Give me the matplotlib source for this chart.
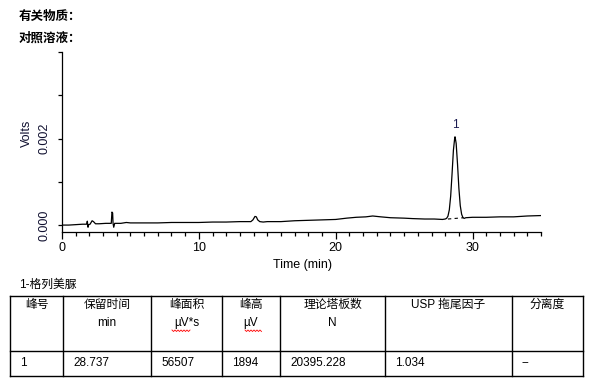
import numpy as np
import matplotlib
matplotlib.use("Agg")
import matplotlib.pyplot as plt
from matplotlib.lines import Line2D
from matplotlib.ticker import FixedLocator, MultipleLocator

# ---------------- data ----------------
time_min = [0, 0.5, 1.0, 1.5, 1.8, 1.85, 1.9, 1.95, 2.05, 2.2, 2.3, 2.45, 2.7, 3.2, 3.6,
            3.65, 3.7, 3.73, 3.78, 3.85, 4.3, 4.7, 5.0, 6, 7, 8, 9, 10, 11, 12, 13, 13.8,
            13.95, 14.1, 14.2, 14.3, 14.45, 14.7, 15, 16, 17, 18, 19, 20, 20.8, 21.5, 22.2,
            22.7, 23.3, 24, 25, 25.6, 26.5, 27.2, 27.8, 28.0, 28.1, 28.2, 28.3, 28.4, 28.5,
            28.6, 28.7, 28.72, 28.8, 28.9, 29.0, 29.1, 29.2, 29.3, 29.4, 29.5, 30, 31, 32,
            33, 34, 35]
volts = [0.00000, 0.00000, 0.00001, 0.00002, 0.00002, 0.00009, -0.00005, 0.00001, 0.00002,
         0.00010, 0.00008, 0.00003, 0.00003, 0.00004, 0.00004,
         0.00030, 0.00028, 0.00004, -0.00005, 0.00004, 0.00004, 0.00006, 0.00005, 0.00005,
         0.00005, 0.00006, 0.00006, 0.00006, 0.00007, 0.00007, 0.00008, 0.00008,
         0.00012, 0.00020, 0.00019, 0.00012, 0.00008, 0.00007, 0.00008, 0.00008, 0.00010,
         0.00011, 0.00012, 0.00013, 0.00016, 0.00018, 0.00019,
         0.00021, 0.00019, 0.00017, 0.00016, 0.00015, 0.00014, 0.00014, 0.00013, 0.00014,
         0.000155, 0.000205, 0.00035, 0.00067, 0.00118,
         0.00173, 0.00203, 0.00204, 0.00189, 0.00141, 0.00085, 0.00045, 0.00025, 0.00017,
         0.000155, 0.00017, 0.00018, 0.00018, 0.00019,
         0.00019, 0.00021, 0.00022]

peak_labels = ["1"]
peak_times = [28.72]
peak_apex = [0.00204]
peak_start = [28.2]
peak_end = [29.35]
peak_base_start = [0.00014]
peak_base_end = [0.00017]

title_lines = ["有关物质：", "对照溶液："]
caption = "1-格列美脲"
header_top = ["峰号", "保留时间", "峰面积", "峰高", "理论塔板数", "USP 拖尾因子", "分离度"]
header_unit = ["", "min", "µV*s", "µV", "N", "", ""]
row_values = ["1", "28.737", "56507", "1894", "20395.228", "1.034", "--"]

# ---------------- figure ----------------
W, H = 596, 387
fig = plt.figure(figsize=(W / 100, H / 100), dpi=100)
fam = ["Liberation Sans", "Noto Sans CJK SC", "DejaVu Sans"]
plt.rcParams["font.family"] = fam


def fx(x):
    return x / W


def fy(y):
    return 1 - y / H


ax = fig.add_axes([fx(62), fy(232), (541 - 62) / W, (232 - 52) / H])
ax.plot(time_min, volts, color="black", lw=0.9)
for s, e, bs, be in zip(peak_start, peak_end, peak_base_start, peak_base_end):
    ax.plot([s, e], [bs, be], color="black", lw=0.8, ls=(0, (3, 3)))
for lab, t, a in zip(peak_labels, peak_times, peak_apex):
    ax.annotate(lab, (t, a), xytext=(0, 4), textcoords="offset points",
                ha="center", va="bottom", fontsize=8.5, color="#1a1a50")

ax.set_xlim(0, 35)
ax.set_ylim(-0.00016, 0.004)
for sp in ["top", "right"]:
    ax.spines[sp].set_visible(False)
for sp in ["left", "bottom"]:
    ax.spines[sp].set_linewidth(0.9)

ax.xaxis.set_major_locator(FixedLocator([0, 10, 20, 30]))
ax.xaxis.set_minor_locator(MultipleLocator(1))
ax.yaxis.set_major_locator(FixedLocator([0.0, 0.002]))
ax.yaxis.set_minor_locator(FixedLocator([0.001, 0.003, 0.004]))
ax.set_yticklabels(["0.000", "0.002"])
ax.tick_params(axis="x", which="major", length=5, width=0.9, pad=2.5, labelsize=9)
ax.tick_params(axis="x", which="minor", length=2.8, width=0.9)
ax.tick_params(axis="y", which="both", length=3, width=0.9, pad=5, labelsize=9,
               labelcolor="#101030")
for lbl in ax.get_yticklabels():
    lbl.set_rotation(90)
    lbl.set_va("center")

ax.set_xlabel("Time (min)", fontsize=9)
ax.xaxis.set_label_coords(0.503, -0.15)
ax.set_ylabel("Volts", fontsize=9, color="#101030")
ax.yaxis.set_label_coords(-0.06, 0.55)

# ---------------- titles ----------------
fig.text(fx(19), fy(17), title_lines[0], fontsize=9, fontweight="bold", va="center", ha="left")
fig.text(fx(19), fy(39), title_lines[1], fontsize=9, fontweight="bold", va="center", ha="left")
fig.text(fx(19), fy(285), caption, fontsize=8.5, va="center", ha="left")

# ---------------- table ----------------
col_x = [10, 63, 151, 222, 280, 385, 512, 583]
row_y = [296, 351, 376]
lw = 1.0
for x in col_x:
    fig.add_artist(Line2D([fx(x), fx(x)], [fy(row_y[0]), fy(row_y[-1])], color="black",
                          lw=lw, transform=fig.transFigure))
for y in row_y:
    fig.add_artist(Line2D([fx(col_x[0]), fx(col_x[-1])], [fy(y), fy(y)], color="black",
                          lw=lw, transform=fig.transFigure))

for i in range(len(header_top)):
    cx = (col_x[i] + col_x[i + 1]) / 2
    fig.text(fx(cx), fy(305), header_top[i], fontsize=8.5, ha="center", va="center")
    if header_unit[i]:
        fig.text(fx(cx), fy(323), header_unit[i], fontsize=8.5, ha="center", va="center")
    fig.text(fx(col_x[i] + 10), fy(363), row_values[i], fontsize=8.5, ha="left", va="center")

# red spell-check squiggles under "µV"
for x0, x1 in [(172, 191), (245, 262)]:
    xs = np.arange(x0, x1 + 0.1, 1.5)
    ys = np.where(np.arange(len(xs)) % 2 == 0, 330, 331.5)
    fig.add_artist(Line2D(fx(xs), fy(ys), color="red", lw=0.6, transform=fig.transFigure))

fig.savefig("out.png", dpi=100)
